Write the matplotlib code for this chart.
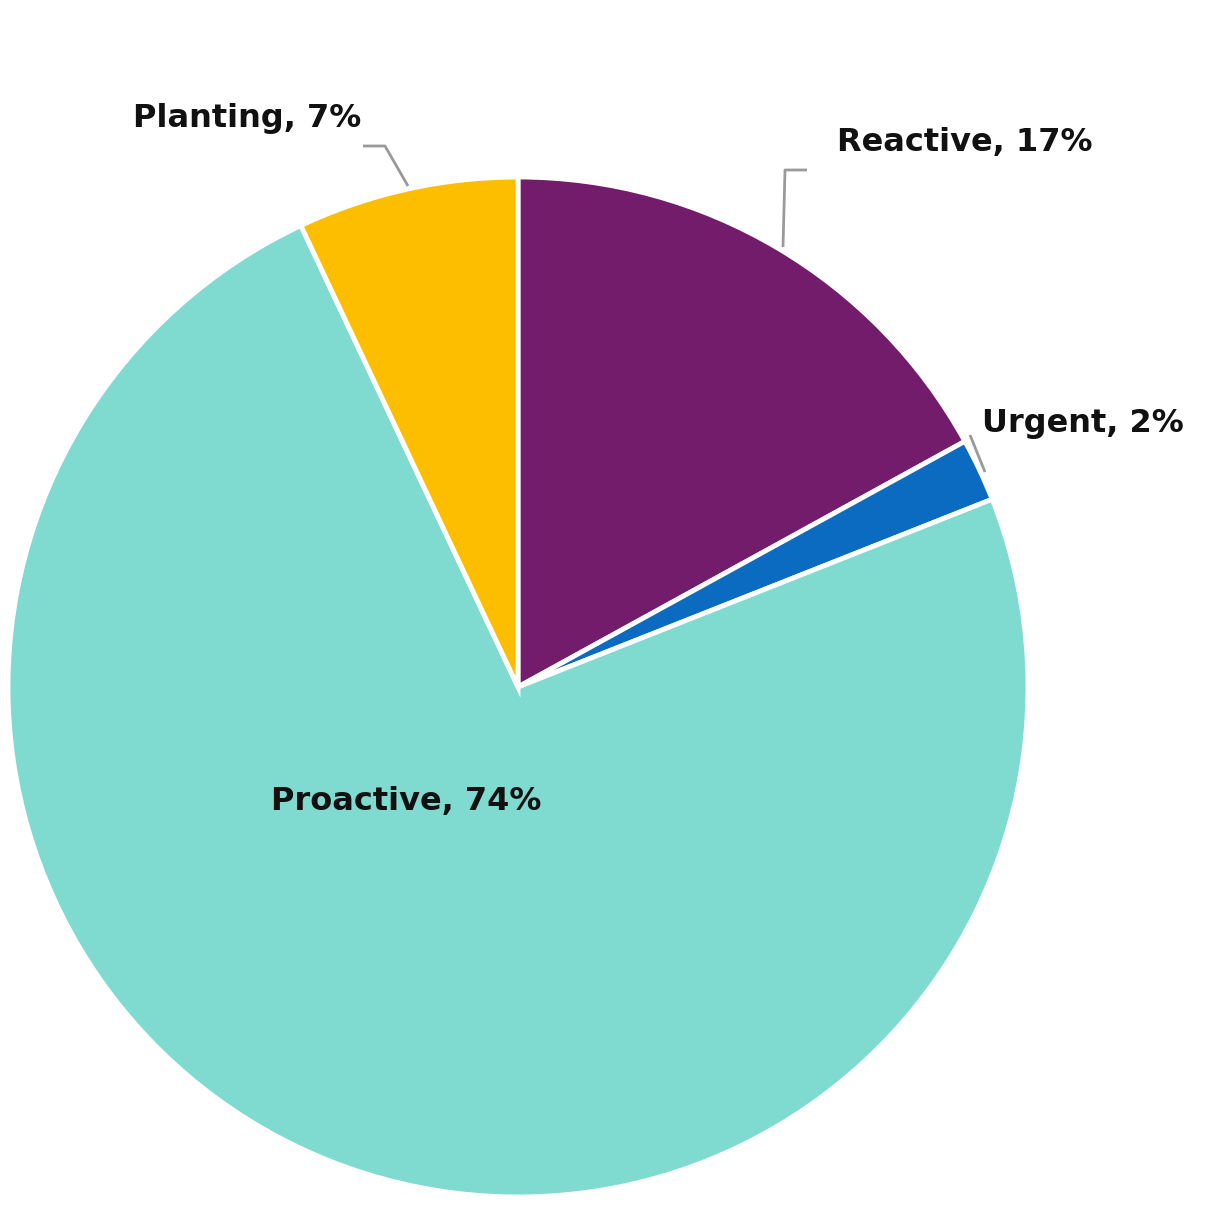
import numpy as np
import matplotlib.pyplot as plt

# slice data, clockwise from 12 o'clock
labels = ["Reactive", "Urgent", "Proactive", "Planting"]
shares = [17, 2, 74, 7]
colors = ["#731c6b", "#0a6bc0", "#7fdbcf", "#fdbe00"]

W, H = 1211, 1210
cx, cy, R = 518, 687, 510  # pie centre and radius in pixels


def px(x, y):
    # pixel position (from top-left) -> data coords
    return (x - cx) / R, (cy - y) / R


fig = plt.figure(figsize=(W / 100, H / 100), dpi=100)
ax = fig.add_axes([0, 0, 1, 1])
ax.pie(shares, colors=colors, startangle=90, counterclock=False, radius=1,
       wedgeprops=dict(edgecolor="white", linewidth=3.5))
ax.set_xlim(-cx / R, (W - cx) / R)
ax.set_ylim(-(H - cy) / R, cy / R)
ax.set_aspect("equal")
ax.axis("off")

font = dict(family="DejaVu Sans", fontweight="bold", fontsize=23, color="#111111")

# label text positions (left x, centre y) in pixels
ax.text(*px(133, 118), f"{labels[3]}, {shares[3]}%", ha="left", va="center", **font)
ax.text(*px(837, 143), f"{labels[0]}, {shares[0]}%", ha="left", va="center", **font)
ax.text(*px(982, 423), f"{labels[1]}, {shares[1]}%", ha="left", va="center", **font)
ax.text(*px(271, 801), f"{labels[2]}, {shares[2]}%", ha="left", va="center", **font)

# leader lines
lc = "#9a9a9a"
for pts in ([(363, 146), (385, 146), (408, 186)],
            [(807, 170), (785, 170), (783, 247)],
            [(970, 435), (985, 472)]):
    xs, ys = zip(*[px(x, y) for x, y in pts])
    ax.plot(xs, ys, color=lc, lw=2, solid_capstyle="butt")

fig.savefig("out.png", dpi=100)
